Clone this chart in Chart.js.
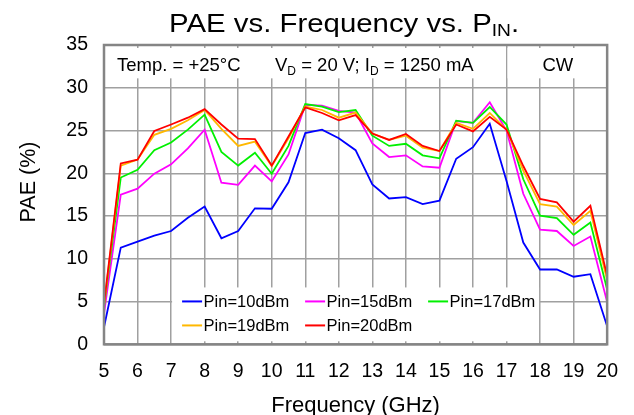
<!DOCTYPE html>
<html>
<head>
<meta charset="utf-8">
<script src="https://cdn.jsdelivr.net/npm/chart.js@4.4.1/dist/chart.umd.min.js"></script>
<style>
html,body{margin:0;padding:0;background:#fff;overflow:hidden}
#wrap{position:relative;width:634px;height:415px}
</style>
</head>
<body>
<div id="wrap"><canvas id="c" width="634" height="415"></canvas></div>
<script>
// ---- data ----
const frequencies = [5,5.5,6,6.5,7,7.5,8,8.5,9,9.5,10,10.5,11,11.5,12,12.5,13,13.5,14,14.5,15,15.5,16,16.5,17,17.5,18,18.5,19,19.5,20];
const pin10 = [2.0,11.3,12.0,12.7,13.25,14.8,16.1,12.4,13.25,15.9,15.85, 18.95,24.7,25.1,24.1,22.7,18.7,17.05,17.2,16.4,16.8, 21.7,23.05,25.8,19.1,11.9,8.75,8.75,7.9,8.2,2.1];
const pin15 = [3.6,17.5,18.2,19.95,21.05,22.9,25.1,18.9,18.65,20.9,19.05, 22.2,28.0,27.9,27.3,27.1,23.5,21.9,22.1,20.8,20.65, 26.1,25.9,28.3,25.0,17.6,13.4,13.25,11.5,12.6,4.95];
const pin17 = [4.4,19.5,20.4,22.7,23.6,25.1,26.85,22.5,20.9,22.4,19.95, 23.2,28.1,27.8,27.15,27.4,24.4,23.2,23.45,22.1,21.75, 26.15,25.9,27.75,25.7,19.3,15.05,14.75,12.8,14.25,6.4];
const pin19 = [4.5,20.9,21.6,24.5,25.2,26.2,27.4,25.2,23.2,23.7,20.85, 24.1,27.8,27.4,26.5,27.1,24.65,23.9,24.4,23.0,22.6, 25.9,25.2,27.05,25.1,20.3,16.4,16.1,13.95,15.6,7.5];
const pin20 = [4.7,21.15,21.6,24.95,25.7,26.5,27.5,25.7,24.05,24.0,20.9, 24.3,27.7,27.05,26.2,26.8,24.65,23.9,24.6,23.2,22.6, 25.7,24.9,26.6,25.1,20.85,17.0,16.6,14.35,16.2,8.0];
const seriesLabels = ['Pin=10dBm','Pin=15dBm','Pin=17dBm','Pin=19dBm','Pin=20dBm'];
const xTicks = [5,20,1];   // min, max, step (GHz)
const yTicks = [0,35,5];   // min, max, step (%)
const titleText = ['PAE vs. Frequency vs. P', 'IN', '.'];
const xTitle = 'Frequency (GHz)';
const yTitle = 'PAE (%)';
const noteTemp = 'Temp. = +25°C';
const noteBias = [['V',0],['D',1],[' = 20 V; I',0],['D',1],[' = 1250 mA',0]];
const noteMode = 'CW';

// ---- styling ----
const FONT = '"Liberation Sans", Arial, Helvetica, sans-serif';
const colors = ['#0000FF','#FF00FF','#00F000','#FFB800','#FF0000'];
const allSeries = [pin10,pin15,pin17,pin19,pin20];

const datasets = allSeries.map((vals,i)=>({
  label: seriesLabels[i],
  data: frequencies.map((f,j)=>({x:f,y:vals[j]})),
  borderColor: colors[i],
  backgroundColor: colors[i],
  borderWidth: 1.8,
  pointRadius: 0,
  tension: 0,
  fill: false,
  order: allSeries.length - i
}));

function drawParts(ctx, parts, x, y, size, subSize, subDrop){
  let cx = x;
  for (const [t,sub] of parts){
    ctx.font = (sub?subSize:size) + 'px ' + FONT;
    ctx.fillText(t, cx, y + (sub?subDrop:0));
    cx += ctx.measureText(t).width;
  }
  return cx;
}

const decor = {
  id:'decor',
  beforeDatasetsDraw(chart){
    const {ctx, chartArea:a, scales:{x,y}} = chart;
    ctx.save();
    ctx.fillStyle = '#fff';
    // annotation boxes
    const yb = y.getPixelForValue(31.1);
    const xs = x.getPixelForValue(17);
    ctx.fillRect(a.left+1, a.top+3, xs-a.left-2, yb-a.top-3);
    ctx.fillRect(xs+1, a.top+3, a.right-xs-2, yb-a.top-3);
    // legend box
    const lx0 = x.getPixelForValue(7)+1, lx1 = x.getPixelForValue(18)-1;
    const ly0 = y.getPixelForValue(6.65);
    ctx.fillRect(lx0, ly0, lx1-lx0, a.bottom-3-ly0);

    // annotation text
    ctx.fillStyle = '#000';
    ctx.textBaseline = 'alphabetic';
    ctx.textAlign = 'left';
    ctx.font = '18.5px ' + FONT;
    ctx.fillText(noteTemp, a.left+13, a.top+26);
    drawParts(ctx, noteBias, a.left+171, a.top+26, 18.5, 12, 4);
    ctx.font = '18.5px ' + FONT;
    ctx.textAlign = 'center';
    ctx.fillText(noteMode, (xs + a.right)/2 + 1, a.top+26);

    // legend entries
    ctx.textAlign = 'left';
    ctx.font = '16.5px ' + FONT;
    chart.data.datasets.forEach((ds,i)=>{
      const col = i % 3, row = Math.floor(i/3);
      const sx = lx0 + 10 + col*123;
      const sy = ly0 + 14 + row*24;
      ctx.strokeStyle = ds.borderColor;
      ctx.lineWidth = 2;
      ctx.beginPath(); ctx.moveTo(sx, sy); ctx.lineTo(sx+20, sy); ctx.stroke();
      ctx.fillStyle = '#000';
      ctx.fillText(ds.label, sx+21.5, sy+6);
    });
    ctx.restore();
  },
  afterDraw(chart){
    const {ctx, chartArea:a} = chart;
    ctx.save();
    // frame
    ctx.strokeStyle = '#858585';
    ctx.lineWidth = 2.5;
    ctx.strokeRect(a.left, a.top, a.right-a.left, a.bottom-a.top);
    // title with subscript
    ctx.fillStyle = '#000';
    ctx.textAlign = 'left';
    ctx.textBaseline = 'alphabetic';
    ctx.translate(169, 0);
    ctx.scale(1.13, 1);
    drawParts(ctx, [[titleText[0],0],[titleText[1],1],[titleText[2],0]], 0, 31.5, 26, 17, 4);
    ctx.restore();
    // axis titles
    ctx.save();
    ctx.fillStyle = '#000';
    ctx.font = '22px ' + FONT;
    ctx.textAlign = 'center';
    ctx.textBaseline = 'alphabetic';
    ctx.fillText(xTitle, (a.left+a.right)/2, 412);
    ctx.font = '21.5px ' + FONT;
    ctx.translate(35, 182);
    ctx.rotate(-Math.PI/2);
    ctx.fillText(yTitle, 0, 0);
    ctx.restore();
  }
};

new Chart(document.getElementById('c'), {
  type:'line',
  data:{datasets},
  plugins:[decor],
  options:{
    responsive:false,
    animation:false,
    devicePixelRatio:1,
    layout:{padding:{top:45,right:26,left:0,bottom:0}},
    plugins:{legend:{display:false}, title:{display:false}, tooltip:{enabled:false}},
    scales:{
      x:{
        type:'linear', min:xTicks[0], max:xTicks[1],
        ticks:{stepSize:xTicks[2], color:'#000', font:{family:FONT, size:19.5}, padding:16, maxRotation:0},
        grid:{color:'#a0a0a0', lineWidth:1.5, drawTicks:false},
        border:{display:false},
        afterFit(s){ s.height = 70.7; }
      },
      y:{
        min:yTicks[0], max:yTicks[1],
        ticks:{stepSize:yTicks[2], color:'#000', font:{family:FONT, size:19.5}, padding:16},
        grid:{color:'#a0a0a0', lineWidth:1.5, drawTicks:false},
        border:{display:false},
        afterFit(s){ s.width = 104; }
      }
    }
  }
});
</script>
</body>
</html>
